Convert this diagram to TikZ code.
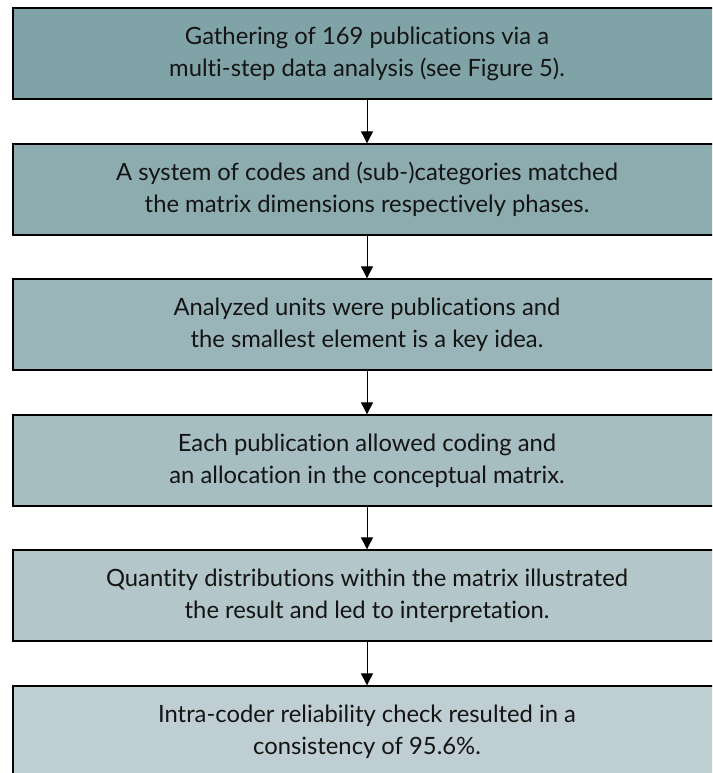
\documentclass[tikz,border=0pt]{standalone}
\usepackage{fontspec}
\setmainfont{Lato}[Ligatures={NoCommon}]
\usetikzlibrary{arrows.meta}
\definecolor{stepA}{RGB}{128,163,167}
\definecolor{stepB}{RGB}{141,172,176}
\definecolor{stepC}{RGB}{154,181,185}
\definecolor{stepD}{RGB}{166,189,193}
\definecolor{stepE}{RGB}{179,198,202}
\definecolor{stepF}{RGB}{191,206,211}
\definecolor{txt}{RGB}{20,20,20}
\tikzset{
  stepbox/.style={draw=black, line width=1.3pt, minimum width=708pt, minimum height=91pt,
    inner sep=0pt, align=center, text=txt,
    font=\fontsize{23.8}{32}\selectfont},
  flow/.style={draw=black, line width=0.9pt, -{Triangle[length=12pt,width=12pt]}}
}
\begin{document}
\begin{tikzpicture}[x=1pt,y=-1pt]
\useasboundingbox (0,0) rectangle (712,773);
\clip (0,0) rectangle (712,773);
\node[stepbox, fill=stepA] (s1) at (367,53.5) {Gathering of 169 publications via a\\multi-step data analysis (see Figure 5).};
\node[stepbox, fill=stepB] (s2) at (367,189.5) {A system of codes and (sub-)categories matched\\the matrix dimensions respectively phases.};
\node[stepbox, fill=stepC] (s3) at (367,324.5) {Analyzed units were publications and\\the smallest element is a key idea.};
\node[stepbox, fill=stepD] (s4) at (367,460.5) {Each publication allowed coding and\\an allocation in the conceptual matrix.};
\node[stepbox, fill=stepE] (s5) at (367,595.5) {Quantity distributions within the matrix illustrated\\the result and led to interpretation.};
\node[stepbox, fill=stepF] (s6) at (367,731.5) {Intra-coder reliability check resulted in a\\consistency of 95.6\%.};
\draw[flow] (s1) -- (s2);
\draw[flow] (s2) -- (s3);
\draw[flow] (s3) -- (s4);
\draw[flow] (s4) -- (s5);
\draw[flow] (s5) -- (s6);
\end{tikzpicture}
\end{document}
